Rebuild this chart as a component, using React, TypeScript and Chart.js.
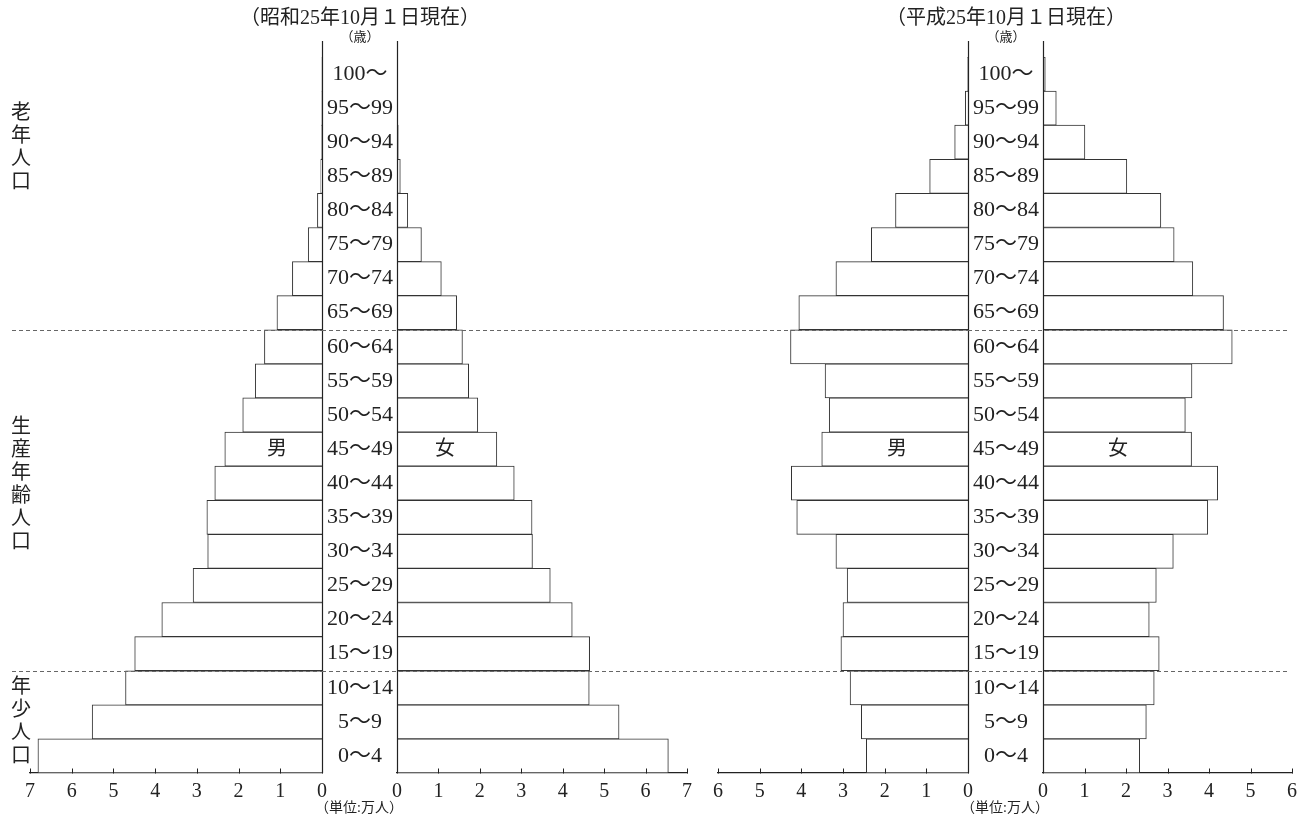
import React, { useEffect, useRef } from "react";
import { Chart, registerables } from "chart.js";

Chart.register(...registerables);

// ---- data (単位: 万人) ----
const ageLabels = [
  "0〜4", "5〜9", "10〜14", "15〜19", "20〜24", "25〜29", "30〜34",
  "35〜39", "40〜44", "45〜49", "50〜54", "55〜59", "60〜64", "65〜69",
  "70〜74", "75〜79", "80〜84", "85〜89", "90〜94", "95〜99", "100〜",
];

// 昭和25年10月1日現在
const male1950 = [6.81, 5.51, 4.71, 4.49, 3.84, 3.09, 2.74, 2.76, 2.57, 2.33, 1.9, 1.6, 1.38, 1.08, 0.71, 0.33, 0.11, 0.03, 0.01, 0.005, 0.002];
const female1950 = [6.55, 5.36, 4.64, 4.65, 4.23, 3.7, 3.27, 3.26, 2.83, 2.41, 1.95, 1.73, 1.58, 1.44, 1.07, 0.59, 0.26, 0.08, 0.03, 0.01, 0.003];

// 平成25年10月1日現在
const male2013 = [2.44, 2.56, 2.83, 3.05, 3.0, 2.9, 3.17, 4.11, 4.24, 3.51, 3.33, 3.43, 4.26, 4.06, 3.17, 2.32, 1.74, 0.92, 0.32, 0.065, 0.01];
const female2013 = [2.33, 2.49, 2.68, 2.8, 2.56, 2.73, 3.14, 3.97, 4.21, 3.58, 3.43, 3.59, 4.56, 4.35, 3.61, 3.16, 2.84, 2.02, 1.01, 0.32, 0.055];

const axisMax1950 = 7;
const axisMax2013 = 6;

const title1950 = "（昭和25年10月１日現在）";
const title2013 = "（平成25年10月１日現在）";
const ageUnit = "（歳）";
const popUnit = "（単位:万人）";
const maleLabel = "男";
const femaleLabel = "女";

// group separators: between these age classes
const groupBoundaries: [string, string][] = [
  ["10〜14", "15〜19"],
  ["60〜64", "65〜69"],
];
const groupNames = ["老年人口", "生産年齢人口", "年少人口"];

const FONT = "'Liberation Serif', 'Noto Sans CJK JP', serif";
const INK = "#222";

const decorPlugin = {
  id: "decor",
  afterDatasetsDraw(chart: any, _args: any, opts: any) {
    const { ctx, chartArea, scales } = chart;
    const xs = scales.x;
    const ys = scales.y;
    ctx.save();
    // zero line, extended above the plot
    const x0 = Math.round(xs.getPixelForValue(0)) + 0.5;
    ctx.strokeStyle = INK;
    ctx.lineWidth = 1.2;
    ctx.beginPath();
    ctx.moveTo(x0, chartArea.top - 16);
    ctx.lineTo(x0, chartArea.bottom);
    ctx.stroke();
    // inward tick marks
    ctx.lineWidth = 1;
    const yb = Math.round(chartArea.bottom) + 0.5;
    xs.ticks.forEach((t: any) => {
      const px = Math.round(xs.getPixelForValue(t.value)) + 0.5;
      ctx.beginPath();
      ctx.moveTo(px, yb);
      ctx.lineTo(px, yb - 5);
      ctx.stroke();
    });
    // dashed group separators
    ctx.strokeStyle = "#666";
    ctx.setLineDash([4, 3]);
    groupBoundaries.forEach(([a, b]) => {
      const ia = ageLabels.indexOf(a);
      const ib = ageLabels.indexOf(b);
      const y = Math.round((ys.getPixelForValue(ia) + ys.getPixelForValue(ib)) / 2) + 0.5;
      ctx.beginPath();
      ctx.moveTo(opts.dashFrom, y);
      ctx.lineTo(opts.dashTo, y);
      ctx.stroke();
    });
    ctx.restore();
  },
};

type PanelProps = {
  values: number[];
  max: number;
  male: boolean;
  left: number;
  width: number;
  padLeft: number;
  padRight: number;
  dashFrom: number;
  dashTo: number;
};

function Panel(p: PanelProps) {
  const ref = useRef<HTMLCanvasElement | null>(null);
  useEffect(() => {
    if (!ref.current) return;
    const yAxis: any = {
      type: "category",
      reverse: true,
      position: "left",
      display: !p.male,
      grid: { display: false, drawTicks: false },
      border: { display: false },
      ticks: { font: { family: FONT, size: 22 }, color: INK, crossAlign: "center", padding: 4, autoSkip: false },
    };
    if (!p.male) {
      yAxis.afterFit = (s: any) => {
        s.width = 75;
      };
    }
    const chart = new Chart(ref.current, {
      type: "bar",
      data: {
        labels: ageLabels,
        datasets: [
          {
            data: p.values,
            backgroundColor: "#ffffff",
            borderColor: "#333",
            borderWidth: 1,
            barPercentage: 1,
            categoryPercentage: 1,
            borderSkipped: "start",
          },
        ],
      },
      options: {
        indexAxis: "y",
        animation: false,
        responsive: false,
        devicePixelRatio: 1,
        events: [],
        layout: { padding: { left: p.padLeft, right: p.padRight, top: 57, bottom: 0 } },
        plugins: {
          legend: { display: false },
          tooltip: { enabled: false },
          decor: { dashFrom: p.dashFrom, dashTo: p.dashTo },
        } as any,
        scales: {
          x: {
            type: "linear",
            min: 0,
            max: p.max,
            reverse: p.male,
            position: "bottom",
            grid: { display: false, drawTicks: false },
            border: { display: true, color: INK, width: 1.2 },
            ticks: { stepSize: 1, font: { family: FONT, size: 20 }, color: INK, padding: 7, maxRotation: 0 },
            afterFit: (s: any) => {
              s.height = 45;
            },
          },
          y: yAxis,
        },
      } as any,
      plugins: [decorPlugin],
    });
    return () => chart.destroy();
  }, []);
  return (
    <canvas
      ref={ref}
      width={p.width}
      height={818}
      style={{ position: "absolute", left: p.left, top: 0, width: p.width, height: 818 }}
    />
  );
}

function Txt({ x, y, size, children }: { x: number; y: number; size: number; children: React.ReactNode }) {
  return (
    <div
      style={{
        position: "absolute",
        left: x,
        top: y,
        transform: "translate(-50%, -50%)",
        whiteSpace: "nowrap",
        fontSize: size,
        lineHeight: 1,
        fontFamily: FONT,
        color: INK,
      }}
    >
      {children}
    </div>
  );
}

function VText({ x, cy, text }: { x: number; cy: number; text: string }) {
  const lh = 23;
  return (
    <div
      style={{
        position: "absolute",
        left: x - 12,
        top: cy - (text.length * lh) / 2,
        width: 24,
        textAlign: "center",
        fontSize: 20,
        lineHeight: `${lh}px`,
        fontFamily: FONT,
        color: INK,
      }}
    >
      {text.split("").map((c, i) => (
        <div key={i}>{c}</div>
      ))}
    </div>
  );
}

export default function App() {
  return (
    <div
      style={{
        position: "fixed",
        left: 0,
        top: 0,
        width: 1308,
        height: 818,
        background: "#fff",
        overflow: "hidden",
      }}
    >
      <Panel values={male1950} max={axisMax1950} male left={0} width={360} padLeft={30} padRight={38} dashFrom={12} dashTo={322} />
      <Panel values={female1950} max={axisMax1950} male={false} left={322} width={400} padLeft={0} padRight={35} dashFrom={0} dashTo={378} />
      <Panel values={male2013} max={axisMax2013} male left={680} width={300} padLeft={38} padRight={12} dashFrom={20} dashTo={288} />
      <Panel values={female2013} max={axisMax2013} male={false} left={968} width={340} padLeft={0} padRight={16} dashFrom={0} dashTo={322} />

      <Txt x={360} y={17} size={20}>{title1950}</Txt>
      <Txt x={360} y={36} size={13}>{ageUnit}</Txt>
      <Txt x={359} y={808} size={14}>{popUnit}</Txt>
      <Txt x={277} y={448} size={20}>{maleLabel}</Txt>
      <Txt x={445} y={448} size={20}>{femaleLabel}</Txt>

      <Txt x={1006} y={17} size={20}>{title2013}</Txt>
      <Txt x={1006} y={36} size={13}>{ageUnit}</Txt>
      <Txt x={1005} y={808} size={14}>{popUnit}</Txt>
      <Txt x={897} y={448} size={20}>{maleLabel}</Txt>
      <Txt x={1118} y={448} size={20}>{femaleLabel}</Txt>

      <VText x={21} cy={147} text={groupNames[0]} />
      <VText x={21} cy={484} text={groupNames[1]} />
      <VText x={21} cy={721} text={groupNames[2]} />
    </div>
  );
}
